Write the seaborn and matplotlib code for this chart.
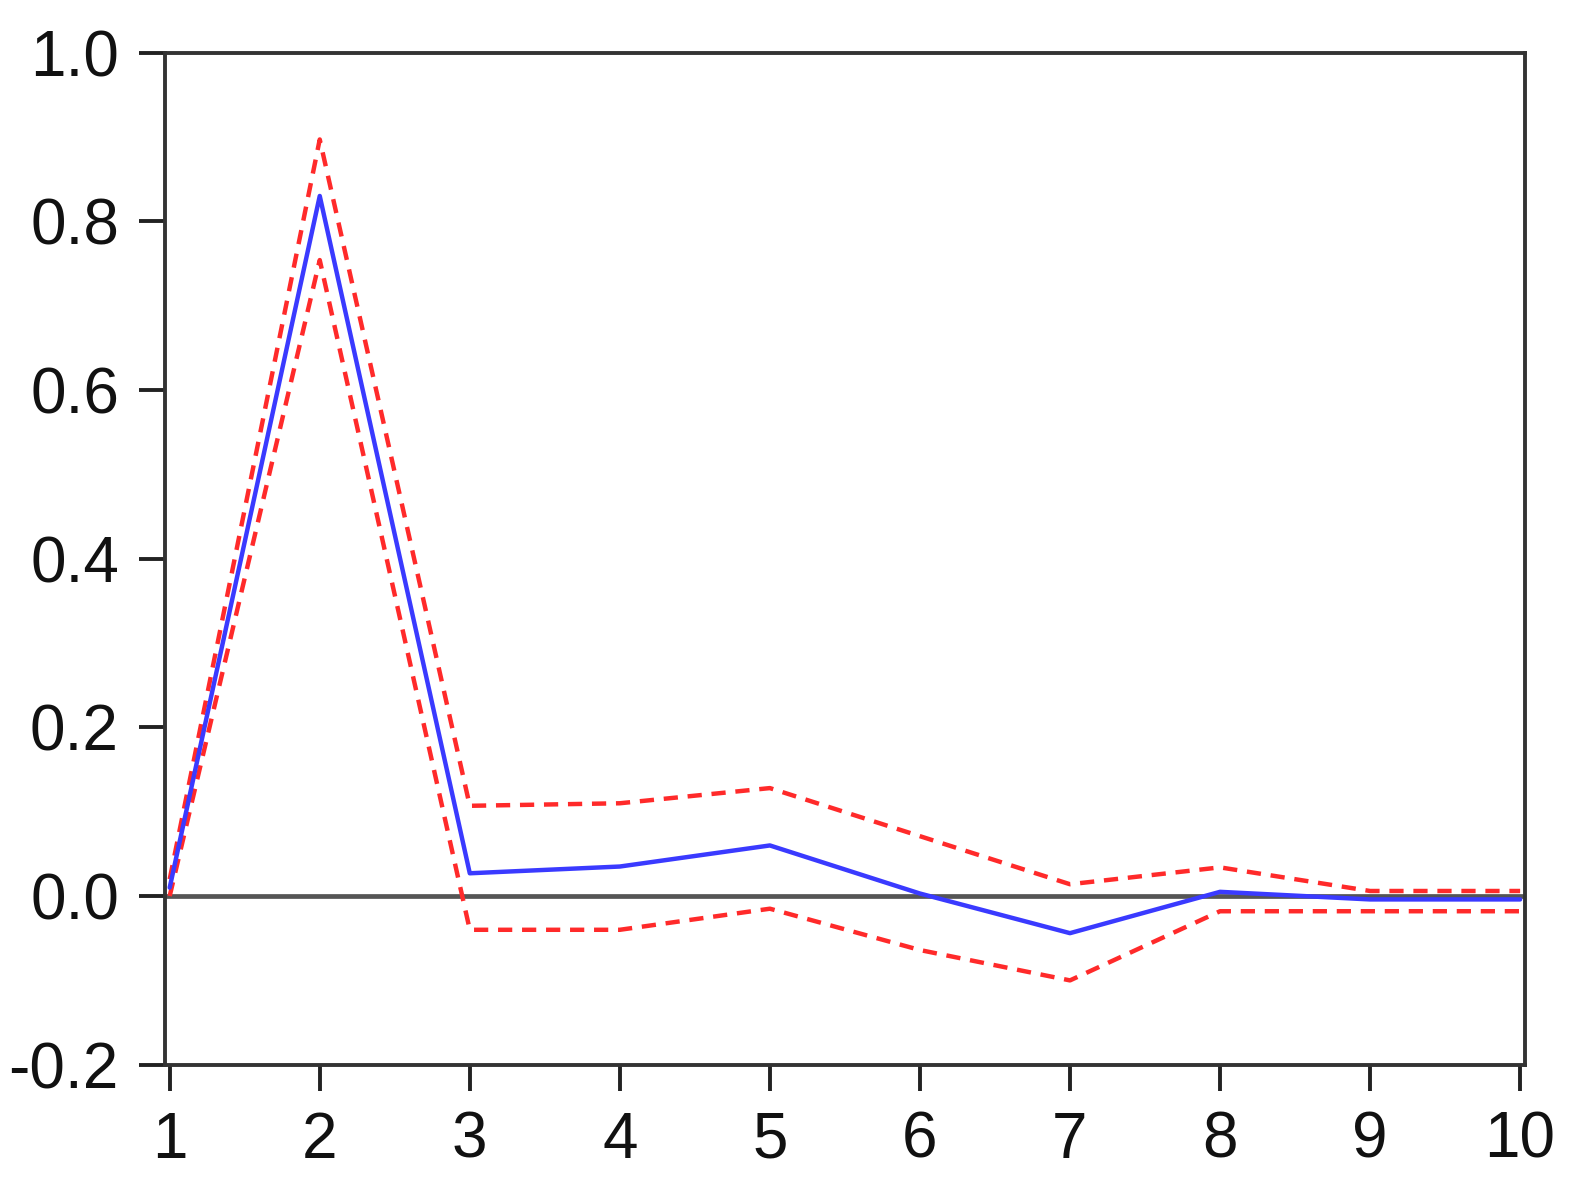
import pandas as pd
import matplotlib
matplotlib.use("Agg")
import matplotlib.pyplot as plt
import seaborn as sns

sns.set_style("ticks")
plt.rcParams['font.family'] = ['Liberation Sans', 'DejaVu Sans']

periods = [1, 2, 3, 4, 5, 6, 7, 8, 9, 10]
response = [0.01, 0.83, 0.027, 0.035, 0.06, 0.003, -0.044, 0.005, -0.004, -0.004]
upper = [0.02, 0.897, 0.107, 0.11, 0.128, 0.071, 0.014, 0.034, 0.006, 0.006]
lower = [0.0, 0.754, -0.04, -0.04, -0.015, -0.064, -0.10, -0.018, -0.018, -0.018]

df = pd.DataFrame({"period": periods, "response": response, "upper": upper, "lower": lower})

fig = plt.figure(figsize=(15.69, 11.95), dpi=100)
ax = fig.add_axes([0.105, 0.109, 0.867, 0.847])

ax.axhline(0, color="#555555", lw=3.4, zorder=1)
sns.lineplot(data=df, x="period", y="upper", ax=ax, color="#ff2a2a", lw=3.2,
             linestyle=(0, (3.2, 2.2)), zorder=2)
sns.lineplot(data=df, x="period", y="lower", ax=ax, color="#ff2a2a", lw=3.2,
             linestyle=(0, (3.2, 2.2)), zorder=2)
sns.lineplot(data=df, x="period", y="response", ax=ax, color="#3a3aff", lw=3.2, zorder=3)

ax.set_xlim(0.967, 10.033)
ax.set_ylim(-0.2, 1.0)
ax.set_xticks(periods)
ax.set_yticks([-0.2, 0.0, 0.2, 0.4, 0.6, 0.8, 1.0])
ax.set_yticklabels(["-0.2", "0.0", "0.2", "0.4", "0.6", "0.8", "1.0"])
ax.set_xlabel("")
ax.set_ylabel("")
for s in ax.spines.values():
    s.set_linewidth(2.8)
    s.set_color("#333333")
ax.tick_params(axis="both", direction="out", length=19, width=2.8, color="#222222",
               labelsize=46, labelcolor="#111111")
ax.tick_params(axis="y", pad=14)
ax.tick_params(axis="x", pad=14)

fig.savefig("out.png", dpi=100)
